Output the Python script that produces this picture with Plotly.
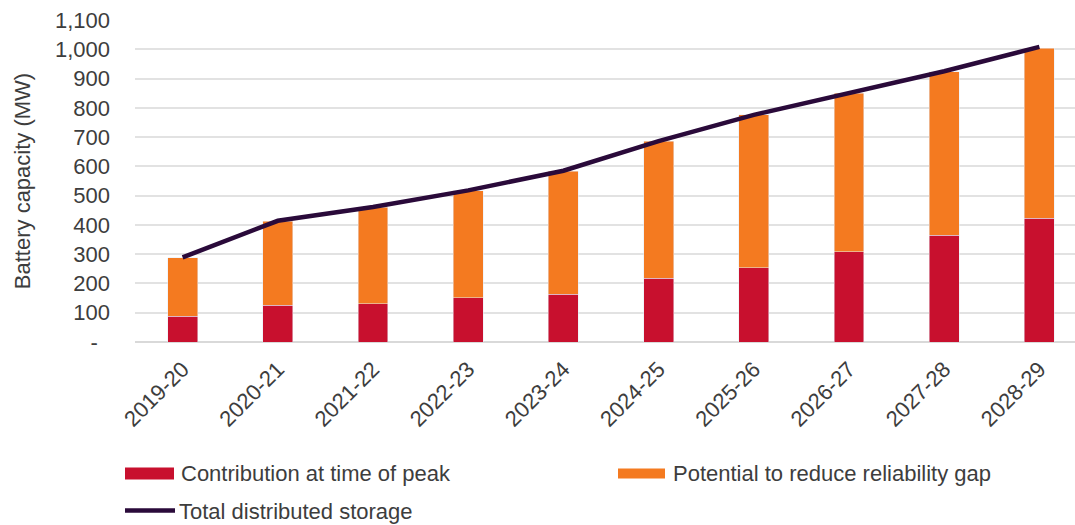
import plotly.graph_objects as go

# Financial years on the category axis
years = ["2019-20", "2020-21", "2021-22", "2022-23", "2023-24",
         "2024-25", "2025-26", "2026-27", "2027-28", "2028-29"]

# Battery capacity (MW)
contribution_at_peak = [88, 125, 131, 152, 163, 217, 254, 308, 365, 422]
reliability_gap_potential = [199, 288, 330, 365, 421, 468, 522, 542, 559, 582]
total_distributed = [289, 414, 461, 518, 585, 686, 776, 851, 925, 1008]

# Y-axis ticks
y_tick_values = [0, 100, 200, 300, 400, 500, 600, 700, 800, 900, 1000, 1100]
y_tick_labels = ["-\u00a0\u00a0", "100", "200", "300", "400", "500", "600",
                 "700", "800", "900", "1,000", "1,100"]

RED = "#c8102e"
ORANGE = "#f47a20"
PURPLE = "#2a0a3a"
TEXT = "#3d3d3d"
GRID = "#e2e2e2"
FONT = "Liberation Sans, Arial, sans-serif"

W, H = 1075, 525
L, R, T, B = 135, 0, 20, 183.3
PLOT_W = W - L - R
PLOT_H = H - T - B


def px(x):
    """Pixel x -> paper x."""
    return (x - L) / PLOT_W


def py(y):
    """Pixel y (from top) -> paper y."""
    return (H - B - y) / PLOT_H


fig = go.Figure()
fig.add_trace(go.Bar(x=years, y=contribution_at_peak, marker_color=RED,
                     name="Contribution at time of peak", showlegend=False))
fig.add_trace(go.Bar(x=years, y=reliability_gap_potential, marker_color=ORANGE,
                     name="Potential to reduce reliability gap", showlegend=False))
fig.add_trace(go.Scatter(x=years, y=total_distributed, mode="lines",
                         line=dict(color=PURPLE, width=4.5),
                         name="Total distributed storage", showlegend=False))

# Legend drawn as swatches + labels below the axis
shapes = [
    dict(type="rect", xref="paper", yref="paper",
         x0=px(125), x1=px(174), y0=py(479), y1=py(467),
         fillcolor=RED, line_width=0),
    dict(type="rect", xref="paper", yref="paper",
         x0=px(618), x1=px(665), y0=py(478), y1=py(468),
         fillcolor=ORANGE, line_width=0),
    dict(type="line", xref="paper", yref="paper",
         x0=px(125), x1=px(175), y0=py(510), y1=py(510),
         line=dict(color=PURPLE, width=4.5)),
]
annotations = [
    dict(text="Contribution at time of peak", x=px(179), y=py(473)),
    dict(text="Potential to reduce reliability gap", x=px(671), y=py(473)),
    dict(text="Total distributed storage", x=px(177), y=py(511)),
]
for a in annotations:
    a.update(xref="paper", yref="paper", xanchor="left", yanchor="middle",
             showarrow=False, font=dict(family=FONT, size=22, color=TEXT))

fig.update_layout(
    width=W, height=H,
    margin=dict(l=L, r=R, t=T, b=B, autoexpand=False),
    paper_bgcolor="white", plot_bgcolor="white",
    barmode="stack", bargap=0.685,
    font=dict(family=FONT, size=22, color=TEXT),
    shapes=shapes, annotations=annotations,
    showlegend=False,
)
fig.update_xaxes(
    range=[-0.5, -0.5 + PLOT_W / 95.2],
    tickangle=-45, showgrid=False, showline=False, zeroline=False,
    ticklabelstandoff=9,
    tickfont=dict(family=FONT, size=22, color=TEXT),
    automargin=False,
)
fig.update_yaxes(
    range=[0, 1100], tickvals=y_tick_values, ticktext=y_tick_labels,
    showgrid=True, gridcolor=GRID, gridwidth=1.5,
    zeroline=True, zerolinecolor="#d9d9d9", zerolinewidth=1.5,
    showline=False, ticklabelstandoff=24,
    tickfont=dict(family=FONT, size=22, color=TEXT),
    title=dict(text="Battery capacity (MW)", standoff=18,
               font=dict(family=FONT, size=22, color=TEXT)),
    automargin=False,
)

fig.write_html("out.html")
